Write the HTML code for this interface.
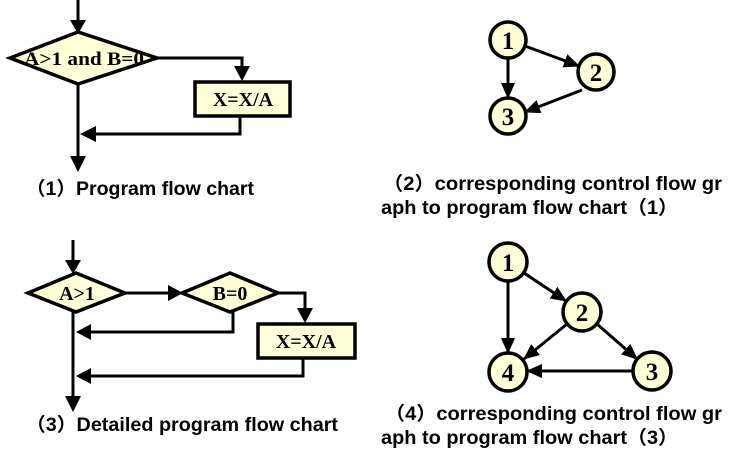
<!DOCTYPE html>
<html><head><meta charset="utf-8"><style>
html,body{margin:0;padding:0;background:#fff;}
svg{display:block;}
.cap{font-family:"Liberation Sans","Noto Sans CJK SC",sans-serif;font-weight:bold;font-size:19px;fill:#000;}
.lbl{font-family:"Liberation Serif",serif;font-weight:bold;font-size:20px;fill:#000;}
.num{font-family:"Liberation Serif",serif;font-weight:bold;font-size:25px;fill:#000;}
</style></head><body>
<svg width="742" height="461" viewBox="0 0 742 461" xmlns="http://www.w3.org/2000/svg">
<defs>
<marker id="a" markerWidth="16" markerHeight="14" refX="15" refY="7" orient="auto" markerUnits="userSpaceOnUse">
<path d="M0,0 L16,7 L0,14 z" fill="#000"/>
</marker>
</defs>
<g stroke="#000" stroke-width="3" fill="none">
<line x1="78" y1="0" x2="78" y2="22"/>
<line x1="78" y1="84" x2="78" y2="160"/>
<polyline points="157,58 242,58 242,68"/>
<polyline points="240,116 240,134 94,134"/>
<line x1="73" y1="240" x2="73" y2="263"/>
<line x1="73" y1="312" x2="73" y2="400"/>
<line x1="125" y1="293" x2="170" y2="293"/>
<polyline points="278,293 305,293 305,310"/>
<polyline points="233,312 233,332 90,332"/>
<polyline points="303,358 303,376 90,376"/>
</g>
<g stroke="#000" stroke-width="3" fill="none" marker-end="url(#a)">
<line x1="525" y1="46" x2="579" y2="66"/>
<line x1="508" y1="58" x2="508" y2="98"/>
<line x1="582" y1="90" x2="525" y2="112"/>
<line x1="524" y1="273" x2="566" y2="301"/>
<line x1="508" y1="281" x2="508" y2="353"/>
<line x1="567" y1="324" x2="524" y2="359"/>
<line x1="597" y1="324" x2="637" y2="359"/>
<line x1="633" y1="371" x2="527" y2="371"/>
</g>
<g fill="#000">
<polygon points="70,20 86,20 78,34"/>
<polygon points="70,156 86,156 78,172"/>
<polygon points="234,66 250,66 242,81"/>
<polygon points="96,126 96,142 80,134"/>
<polygon points="65,260 81,260 73,274"/>
<polygon points="65,396 81,396 73,412"/>
<polygon points="168,285 168,301 183,293"/>
<polygon points="297,308 313,308 305,323"/>
<polygon points="91,324 91,340 76,332"/>
<polygon points="91,368 91,384 76,376"/>
</g>
<g stroke="#000" stroke-width="3.5" fill="#ffffd8">
<polygon points="10,58 78,32 157,58 78,84"/>
<rect x="195" y="82" width="95" height="34"/>
<polygon points="28,293 76,273 125,293 76,312"/>
<polygon points="182,293 230,273 278,293 230,312"/>
<rect x="258" y="324" width="97" height="34"/>
<circle cx="508" cy="40" r="18"/>
<circle cx="596" cy="72" r="18"/>
<circle cx="508" cy="116" r="18"/>
<circle cx="508" cy="262" r="19"/>
<circle cx="582" cy="312" r="19"/>
<circle cx="652" cy="371" r="19"/>
<circle cx="508" cy="372" r="19"/>
</g>
<g text-anchor="middle">
<text class="lbl" x="84" y="65" textLength="120" lengthAdjust="spacingAndGlyphs" style="font-size:19px">A&gt;1 and B=0</text>
<text class="lbl" x="243" y="106">X=X/A</text>
<text class="lbl" x="77" y="300">A&gt;1</text>
<text class="lbl" x="230" y="300">B=0</text>
<text class="lbl" x="306" y="348">X=X/A</text>
<text class="num" x="508" y="49">1</text>
<text class="num" x="596" y="81">2</text>
<text class="num" x="508" y="125">3</text>
<text class="num" x="508" y="271">1</text>
<text class="num" x="582" y="321">2</text>
<text class="num" x="652" y="380">3</text>
<text class="num" x="508" y="381">4</text>
</g>
<text class="cap" x="26" y="195" textLength="228" lengthAdjust="spacingAndGlyphs">（1）Program flow chart</text>
<text class="cap" x="26" y="431" textLength="312" lengthAdjust="spacingAndGlyphs">（3）Detailed program flow chart</text>
<text class="cap" x="383" y="190" textLength="339" lengthAdjust="spacingAndGlyphs">（2）corresponding control flow gr</text>
<text class="cap" x="381" y="214" textLength="297" lengthAdjust="spacingAndGlyphs">aph to program flow chart（1）</text>
<text class="cap" x="385" y="420" textLength="337" lengthAdjust="spacingAndGlyphs">（4）corresponding control flow gr</text>
<text class="cap" x="381" y="444" textLength="297" lengthAdjust="spacingAndGlyphs">aph to program flow chart（3）</text>
</svg>
</body></html>
